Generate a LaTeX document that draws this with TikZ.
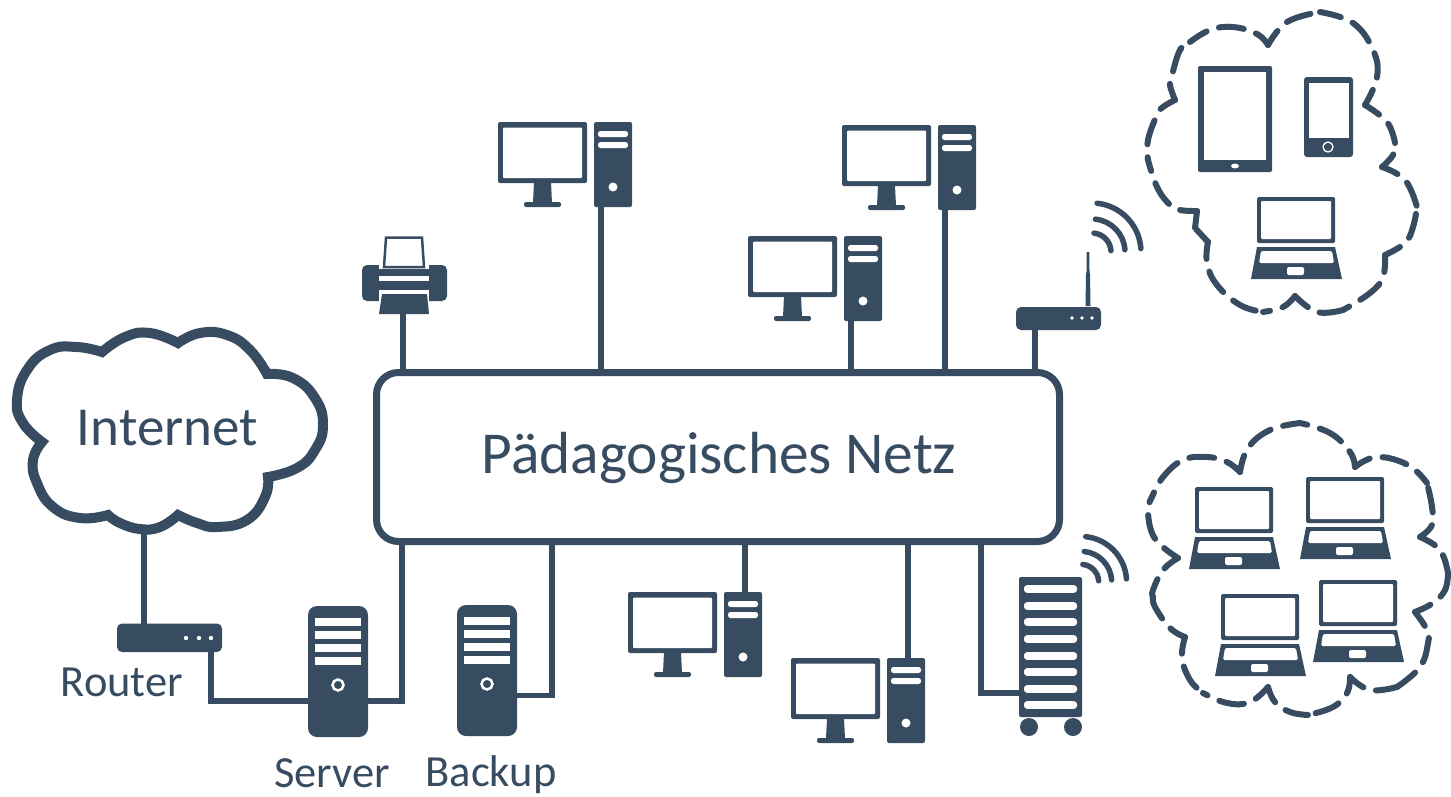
\documentclass[tikz,border=0pt]{standalone}
\usepackage{fontspec}
\setmainfont{Carlito}
\definecolor{netblue}{HTML}{374C60}
\tikzset{
  ink/.style={fill=netblue,draw=none},
  hole/.style={fill=white,draw=none},
  wire/.style={draw=netblue,line width=5.8pt,line join=miter},
  waveline/.style={draw=netblue,line width=5.5pt,line cap=round},
  cloudline/.style={draw=netblue,line width=6pt,line cap=round,dash pattern=on 25pt off 13pt,dash phase=8pt},
  biglabel/.style={text=netblue,inner sep=0pt,anchor=base,font=\fontsize{59.4}{60}\selectfont},
  midlabel/.style={text=netblue,inner sep=0pt,anchor=base,font=\fontsize{55}{55}\selectfont},
  smalllabel/.style={text=netblue,inner sep=0pt,anchor=base,font=\fontsize{44.5}{45}\selectfont},
  pcset/.pic={
    \fill[ink,rounded corners=2pt] (0,0) rectangle (89,61);
    \fill[hole,rounded corners=1pt] (5,5.5) rectangle (84,56);
    \fill[ink] (36,60)--(53,60)--(54,81)--(35,81)--cycle;
    \fill[ink,rounded corners=2pt] (26,80) rectangle (63,85);
    \fill[ink,rounded corners=2pt] (96,0) rectangle (134,85);
    \fill[hole,rounded corners=2.5pt] (100,9) rectangle (130,15);
    \fill[hole,rounded corners=2.5pt] (100,20) rectangle (130,26);
    \fill[hole] (115,65) circle (4.5);
    \coordinate (-down) at (103,85);
    \coordinate (-up) at (117,0);
  },
  printerbox/.pic={
    \fill[ink,rounded corners=5pt] (0,29) rectangle (85,65);
    \fill[hole] (17,28) rectangle (67,33);
    \fill[hole] (17,40) rectangle (67,45);
    \fill[hole] (17,54) rectangle (67,66);
    \filldraw[fill=white,draw=netblue,line width=2.5pt] (24,1.5)--(60,1.5)--(62,31)--(22,31)--cycle;
    \fill[ink] (20,58)--(65,58)--(67,78)--(17,78)--cycle;
    \coordinate (-down) at (41,78);
  },
  routerbox/.pic={
    \fill[ink,rounded corners=5pt] (0,0) rectangle (105,28.5);
    \foreach \x in {69,82,94} \fill[hole] (\x,14.5) circle (2.2);
    \coordinate (-left) at (27,0);
    \coordinate (-foot) at (94,28.5);
  },
  apbox/.pic={
    \fill[ink,rounded corners=5pt] (0,0) rectangle (85,23);
    \foreach \x in {56,66,76} \fill[hole] (\x,11) circle (1.8);
    \fill[ink] (69.5,-1)--(74.5,-1)--(74,-33)--(73.5,-35)--(73.4,-55)--(70.6,-55)--(70.5,-35)--(70,-33)--cycle;
    \coordinate (-foot) at (19,23);
  },
  serverbox/.pic={
    \fill[ink,rounded corners=9pt] (0,0) rectangle (60,131);
    \foreach \y in {12,25,38,51} \fill[hole] (7,\y) rectangle (53,\y+8);
    \draw[white,line width=2.5pt] (30,79) circle (5.5);
    \coordinate (-east) at (60,95);
    \coordinate (-west) at (0,95);
  },
  rackbox/.pic={
    \fill[ink,rounded corners=2pt] (0,0) rectangle (63,140);
    \foreach \y in {12,29,45,62,79,95,112,128} \fill[hole,rounded corners=3pt] (5,\y-3.8) rectangle (58,\y+3.8);
    \fill[ink] (10,150) circle (9);
    \fill[ink] (54,150) circle (9);
    \coordinate (-west) at (0,116);
  },
  laptopbox/.pic={
    \fill[ink,rounded corners=1.5pt] (0,0) rectangle (78,46);
    \fill[hole,rounded corners=1pt] (4,4) rectangle (74,42);
    \fill[ink] (0,50)--(78,50)--(85,82)--(-6,82)--cycle;
    \fill[hole,rounded corners=1.5pt] (4,54)--(75,54)--(77,66)--(2,66)--cycle;
    \fill[hole,rounded corners=2pt] (30,70) rectangle (47,78);
  },
  tabletbox/.pic={
    \fill[ink,rounded corners=2pt] (0,0) rectangle (74,106);
    \fill[hole] (6,6) rectangle (68,94);
    \fill[hole] (37,100) ellipse (4 and 2.4);
  },
  phonebox/.pic={
    \fill[ink,rounded corners=3pt] (0,0) rectangle (49,80);
    \fill[hole] (5,6) rectangle (45,61);
    \draw[white,line width=1.3pt] (24,70) circle (5);
  },
  wavebox/.pic={
    \foreach \r in {19,33,49} \draw[waveline] (-4:\r) arc[start angle=-4,end angle=-84,radius=\r];
  },
}
\newcommand{\cloudarm}[1]{\draw[cloudline] plot[smooth,tension=.7] coordinates {#1};}
\begin{document}
\begin{tikzpicture}[x=1pt,y=-1pt]
\useasboundingbox (0,0) rectangle (1451,796);
% middle box
\node[draw=netblue,line width=7pt,rounded corners=22pt,minimum width=683pt,minimum height=169pt,inner sep=0pt] (netz) at (718,457) {};
\node[biglabel] (netztext) at (719,473) {Pädagogisches Netz};
% top row
\pic (pca) at (498,122) {pcset};
\pic (pcb) at (842,125) {pcset};
\pic (pcc) at (748,236) {pcset};
\pic (druck) at (362,236) {printerbox};
\pic (ap) at (1016,307) {apbox};
\pic at (1092,252) {wavebox};
\draw[wire] (druck-down)--(druck-down |- netz.north);
\draw[wire] (pca-down)--(pca-down |- netz.north);
\draw[wire] (pcb-down)--(pcb-down |- netz.north);
\draw[wire] (pcc-down)--(pcc-down |- netz.north);
\draw[wire] (ap-foot)--(ap-foot |- netz.north);
% bottom row
\pic (pcd) at (628,592) {pcset};
\pic (pce) at (791,658) {pcset};
\pic (server) at (308,606) {serverbox};
\pic (backup) at (457,605) {serverbox};
\pic (rack) at (1019,577) {rackbox};
\pic[scale=.93] at (1081,582) {wavebox};
\draw[wire] (pcd-up)--(pcd-up |- netz.south);
\draw[wire] (pce-up)--(pce-up |- netz.south);
\draw[wire] (server-east)-|(402,540);
\draw[wire] ([yshift=4.5pt]backup-east)-|(552,540);
\draw[wire] (rack-west)-|(981,540);
% internet and router
\draw[netblue,line width=10pt,line join=miter,miter limit=6]
  plot[smooth,tension=.8] coordinates {(102,352) (125,337) (150,333) (178,343)}
  --plot[smooth,tension=.8] coordinates {(178,343) (200,333) (227,335) (250,350) (267,374)}
  --plot[smooth,tension=.8] coordinates {(267,374) (293,378) (315,398) (323,425) (315,450) (297,468) (268,477)}
  --plot[smooth,tension=.8] coordinates {(268,477) (265,497) (247,520) (217,527) (197,523) (178,515)}
  --plot[smooth,tension=.8] coordinates {(178,515) (160,527) (140,529) (120,523) (108,515)}
  --plot[smooth,tension=.8] coordinates {(108,515) (80,518) (53,507) (37,483) (33,460) (42,442)}
  --plot[smooth,tension=.8] coordinates {(42,442) (23,423) (17,400) (27,370) (50,350) (77,347) (102,352)}
  --cycle;
\coordinate (inetout) at (144,528);
\node[midlabel] (inettext) at (167.5,445) {Internet};
\pic (router) at (117,623.5) {routerbox};
\draw[wire] (inetout)--(inetout |- router-left);
\draw[wire] (router-foot)|-(server-west);
\node[smalllabel] (routertext) at (122,696) {Router};
\node[smalllabel] (servertext) at (332,787) {Server};
\node[smalllabel] (backuptext) at (491,786.5) {Backup};
% devices
\pic at (1198,66) {tabletbox};
\pic at (1304,77) {phonebox};
\pic at (1257,197) {laptopbox};
\pic at (1195,487) {laptopbox};
\pic at (1306,477) {laptopbox};
\pic at (1221,594) {laptopbox};
\pic at (1319,580) {laptopbox};
% upper cloud
\cloudarm{(1268,45) (1287,22) (1320,12)}
\cloudarm{(1365,105) (1377,77) (1373,50) (1353,23) (1320,12)}
\cloudarm{(1365,105) (1387,122) (1395,143)}
\cloudarm{(1382,167) (1393,155) (1395,143)}
\cloudarm{(1382,167) (1405,180) (1417,207)}
\cloudarm{(1385,255) (1405,243) (1413,227) (1417,207)}
\cloudarm{(1385,255) (1383,277) (1370,293) (1343,310)}
\cloudarm{(1295,296) (1317,312) (1343,310)}
\cloudarm{(1295,296) (1283,307) (1263,312)}
\cloudarm{(1208,242) (1207,263) (1217,285) (1240,305) (1263,312)}
\cloudarm{(1208,242) (1195,228)}
\cloudarm{(1197,211) (1195,228)}
\cloudarm{(1197,211) (1180,210) (1170,205) (1157,187) (1148,160)}
\cloudarm{(1175,100) (1163,107) (1157,115) (1148,140) (1148,160)}
\cloudarm{(1175,100) (1170,85) (1172,75) (1180,50) (1190,42)}
\cloudarm{(1268,45) (1257,34) (1233,27) (1210,30) (1190,42)}
% lower cloud
\cloudarm{(1240,472) (1248,448) (1270,430) (1300,423)}
\cloudarm{(1355,467) (1350,452) (1330,433) (1300,423)}
\cloudarm{(1355,467) (1377,457) (1408,465) (1427,483)}
\cloudarm{(1420,537) (1432,525) (1432,507) (1427,483)}
\cloudarm{(1420,537) (1440,550) (1448,573)}
\cloudarm{(1415,612) (1433,603) (1445,590) (1448,573)}
\cloudarm{(1415,612) (1427,630) (1428,643) (1420,667) (1397,687)}
\cloudarm{(1350,677) (1370,690) (1397,687)}
\cloudarm{(1350,677) (1347,693) (1333,707) (1308,715)}
\cloudarm{(1268,687) (1275,702) (1290,712) (1308,715)}
\cloudarm{(1268,687) (1250,702) (1227,703) (1203,693)}
\cloudarm{(1185,637) (1182,658) (1190,680) (1203,693)}
\cloudarm{(1185,637) (1170,628) (1155,607) (1153,597)}
\cloudarm{(1178,558) (1163,570) (1153,590) (1153,597)}
\cloudarm{(1178,558) (1163,547) (1152,533) (1148,510) (1152,497)}
\cloudarm{(1240,472) (1227,462) (1207,457) (1183,460) (1163,477) (1152,497)}
\end{tikzpicture}
\end{document}
